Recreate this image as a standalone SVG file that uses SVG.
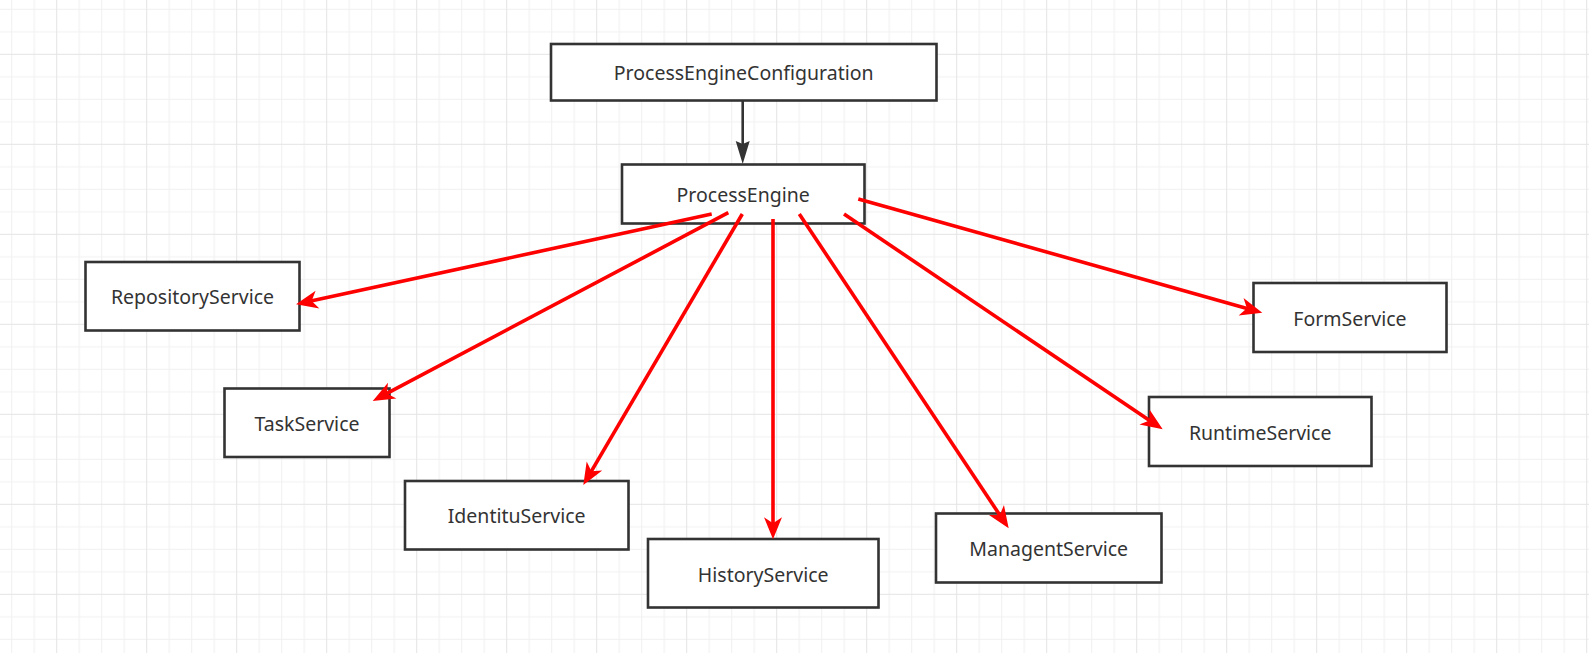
<svg xmlns="http://www.w3.org/2000/svg" width="1589" height="653" viewBox="0 0 1589 653">
  <defs>
    <pattern id="grid" patternUnits="userSpaceOnUse" x="56.2" y="53.8" width="90" height="90">
      <path d="M23,0V90M45.5,0V90M68,0V90M0,23H90M0,45.5H90M0,68H90" stroke="#f0f0f0" stroke-width="1" fill="none"/>
      <path d="M0.5,0V90M0,0.5H90" stroke="#e4e4e4" stroke-width="1" fill="none"/>
    </pattern>
    <marker id="redArrow" markerUnits="userSpaceOnUse" orient="auto" refX="0" refY="0" markerWidth="40" markerHeight="40" overflow="visible">
      <path d="M14,0 L-8,-9 L-2,0 L-8,9 Z" fill="#ff0000"/>
    </marker>
    <marker id="blackArrow" markerUnits="userSpaceOnUse" orient="auto" refX="0" refY="0" markerWidth="40" markerHeight="40" overflow="visible">
      <path d="M20,0 L-3,-7 L0,0 L-3,7 Z" fill="#333333"/>
    </marker>
  </defs>
  <style>
    .box { fill: #ffffff; stroke: #333333; stroke-width: 2.6; }
    .lbl { font-family: "Noto Sans", "Open Sans", sans-serif; font-size: 19.5px; fill: #333333; text-anchor: middle; }
    .red { stroke: #ff0000; stroke-width: 3.6; fill: none; marker-end: url(#redArrow); }
    .blk { stroke: #333333; stroke-width: 2.6; fill: none; marker-end: url(#blackArrow); }
  </style>
  <rect x="0" y="0" width="1589" height="653" fill="#ffffff"/>
  <rect x="0" y="0" width="1589" height="653" fill="url(#grid)"/>

  <g id="node-config">
    <rect class="box" x="551" y="44" width="385.5" height="56.5"/>
    <text class="lbl" x="743.7" y="80">ProcessEngineConfiguration</text>
  </g>
  <g id="node-engine">
    <rect class="box" x="622" y="164.5" width="242.5" height="59"/>
    <text class="lbl" x="743.2" y="201.5">ProcessEngine</text>
  </g>
  <g id="node-repository">
    <rect class="box" x="85.5" y="262" width="214" height="68.5"/>
    <text class="lbl" x="192.5" y="304">RepositoryService</text>
  </g>
  <g id="node-task">
    <rect class="box" x="224.5" y="388.5" width="165" height="68.5"/>
    <text class="lbl" x="307" y="431">TaskService</text>
  </g>
  <g id="node-identity">
    <rect class="box" x="405" y="481" width="223.5" height="68.5"/>
    <text class="lbl" x="516.7" y="523.3">IdentituService</text>
  </g>
  <g id="node-history">
    <rect class="box" x="648" y="539" width="230.5" height="68.5"/>
    <text class="lbl" x="763.2" y="581.5">HistoryService</text>
  </g>
  <g id="node-managent">
    <rect class="box" x="936" y="513.5" width="225.5" height="69"/>
    <text class="lbl" x="1048.7" y="556">ManagentService</text>
  </g>
  <g id="node-form">
    <rect class="box" x="1253.5" y="283" width="193" height="69"/>
    <text class="lbl" x="1350" y="325.5">FormService</text>
  </g>
  <g id="node-runtime">
    <rect class="box" x="1149" y="397" width="222.5" height="69"/>
    <text class="lbl" x="1260.2" y="439.5">RuntimeService</text>
  </g>

  <g id="connectors">
    <line class="blk" x1="742.7" y1="101" x2="742.7" y2="144"/>
    <line class="red" x1="711.7" y1="214" x2="309.7" y2="301.3"/>
    <line class="red" x1="728.3" y1="212.7" x2="385.1" y2="394.4"/>
    <line class="red" x1="742.3" y1="214" x2="590.4" y2="472.9"/>
    <line class="red" x1="773" y1="219" x2="773" y2="525.3"/>
    <line class="red" x1="799.3" y1="214" x2="1000.9" y2="516.7"/>
    <line class="red" x1="844" y1="214" x2="1151.1" y2="421.5"/>
    <line class="red" x1="858.3" y1="199" x2="1248.8" y2="308.9"/>
  </g>
</svg>
